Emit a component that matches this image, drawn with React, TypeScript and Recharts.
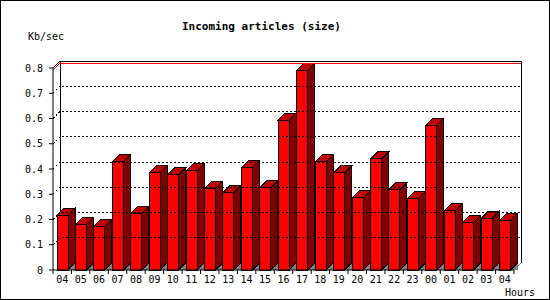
import React from 'react';
import { BarChart, Bar, XAxis, YAxis, ReferenceLine, ReferenceArea } from 'recharts';

const hours = ['04', '05', '06', '07', '08', '09', '10', '11', '12', '13', '14', '15', '16', '17', '18', '19', '20', '21', '22', '23', '00', '01', '02', '03', '04'];
const kbPerSec = [0.217, 0.181, 0.173, 0.428, 0.225, 0.385, 0.377, 0.393, 0.322, 0.306, 0.405, 0.326, 0.594, 0.791, 0.428, 0.385, 0.286, 0.44, 0.318, 0.283, 0.574, 0.235, 0.188, 0.204, 0.196];
const yTicks = [0, 0.1, 0.2, 0.3, 0.4, 0.5, 0.6, 0.7, 0.8];
const gridValues = [0.1, 0.2, 0.3, 0.4, 0.5, 0.6, 0.7];

const data = hours.map((h, i) => ({ hour: h, kb: kbPerSec[i] }));
const maxValue = Math.max(...kbPerSec);

const D = 7;
const FONT = '"DejaVu Sans Mono", monospace';
const W = 550;
const H = 300;
const PLOT_LEFT = 53;
const PLOT_RIGHT = 514;
const BAND = (PLOT_RIGHT - PLOT_LEFT) / hours.length;

function Bar3D(props: any) {
  const { x, y, width, height } = props;
  if (width == null || height == null || isNaN(x) || isNaN(y)) return null;
  const x2 = x + width;
  const y2 = y + height;
  return (
    <g stroke="#000" strokeWidth={1} shapeRendering="crispEdges">
      <polygon points={`${x2},${y2} ${x2 + D},${y2 - D} ${x2 + D},${y2}`} fill="#808080" stroke="none" />
      <polygon points={`${x2},${y} ${x2 + D},${y - D} ${x2 + D},${y2 - D} ${x2},${y2}`} fill="#800000" />
      <polygon points={`${x},${y} ${x + D},${y - D} ${x2 + D},${y - D} ${x2},${y}`} fill="#c00000" />
      <rect x={x} y={y} width={width} height={height} fill="#ff0000" />
    </g>
  );
}

function XTick(props: any) {
  const { x, y, payload, index } = props;
  const last = index === hours.length - 1;
  return (
    <g>
      <line x1={x - BAND / 2} x2={x - BAND / 2} y1={y} y2={y + 4} stroke="#000" />
      {last && <line x1={x + BAND / 2} x2={x + BAND / 2} y1={y} y2={y + 4} stroke="#000" />}
      <text x={x} y={y + 13} textAnchor="middle" fontFamily={FONT} fontSize={10} fill="#000">
        {payload.value}
      </text>
    </g>
  );
}

function Wall(props: any) {
  const { x, y, width, height } = props;
  if (x == null) return null;
  const bx = x + D;
  const by = y - D;
  return (
    <g stroke="#000" strokeWidth={1} fill="none" shapeRendering="crispEdges">
      <polyline points={`${bx},${by + height} ${bx},${by} ${bx + width},${by} ${bx + width},${by + height}`} />
      <line x1={x} y1={y} x2={bx} y2={by} />
      <line x1={x + width} y1={y + height} x2={bx + width} y2={by + height} stroke="#808080" />
    </g>
  );
}

function GridShape(props: any) {
  const { x1, y1, x2 } = props;
  if (x1 == null) return null;
  return (
    <polyline
      points={`${x1},${y1} ${x1 + D},${y1 - D} ${x2 + D},${y1 - D}`}
      fill="none"
      stroke="#000"
      strokeDasharray="2 2"
      shapeRendering="crispEdges"
    />
  );
}

function MaxShape(props: any) {
  const { x1, y1, x2 } = props;
  if (x1 == null) return null;
  return (
    <polyline
      points={`${x1},${y1} ${x1 + D},${y1 - D} ${x2 + D},${y1 - D}`}
      fill="none"
      stroke="#ff0000"
      shapeRendering="crispEdges"
    />
  );
}

export default function App() {
  return (
    <div style={{ position: 'absolute', left: 0, top: 0, width: W, height: H, background: '#fff', fontFamily: FONT }}>
      <BarChart
        width={W}
        height={H}
        data={data}
        margin={{ top: 68, right: W - PLOT_RIGHT, bottom: 0, left: 0 }}
        barSize={11}
      >
        <XAxis
          dataKey="hour"
          interval={0}
          tickLine={false}
          tickSize={0}
          tickMargin={0}
          height={30}
          axisLine={{ stroke: '#000' }}
          tick={<XTick />}
        />
        <YAxis
          type="number"
          domain={[0, 0.8]}
          ticks={yTicks}
          interval={0}
          width={PLOT_LEFT}
          tickSize={4}
          tickMargin={6}
          axisLine={{ stroke: '#000' }}
          tickLine={{ stroke: '#000' }}
          tick={{ fill: '#000', fontSize: 10, fontFamily: FONT }}
          tickFormatter={(v: number) => (v === 0 ? '0' : v.toFixed(1))}
        />
        <ReferenceArea y1={0} y2={0.8} shape={(p: any) => <Wall {...p} />} ifOverflow="visible" />
        {gridValues.map((g) => (
          <ReferenceLine key={g} y={g} shape={(p: any) => <GridShape {...p} />} />
        ))}
        <ReferenceLine y={maxValue} shape={(p: any) => <MaxShape {...p} />} />
        <Bar dataKey="kb" isAnimationActive={false} shape={(p: any) => <Bar3D {...p} />} />
      </BarChart>
      <svg width={W} height={H} style={{ position: 'absolute', left: 0, top: 0, pointerEvents: 'none' }}>
        <text x={182} y={30} fontFamily={FONT} fontSize={11} fontWeight="bold" fill="#000">
          Incoming articles (size)
        </text>
        <text x={28} y={40} fontFamily={FONT} fontSize={10} fill="#000">
          Kb/sec
        </text>
        <text x={505} y={296} fontFamily={FONT} fontSize={10} fill="#000">
          Hours
        </text>
        <rect x={0.5} y={0.5} width={W - 1} height={H - 1} fill="none" stroke="#000" />
      </svg>
    </div>
  );
}
